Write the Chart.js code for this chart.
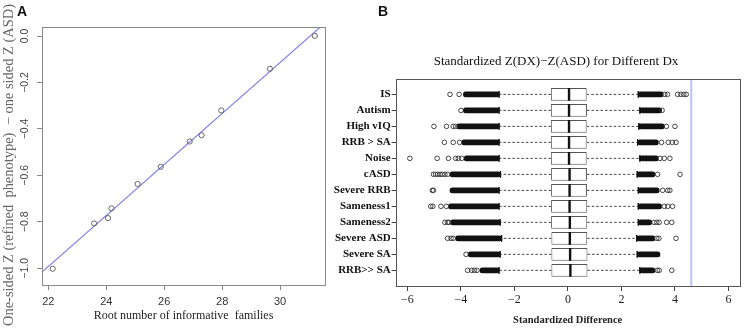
<!DOCTYPE html>
<html>
<head>
<meta charset="utf-8">
<script src="https://cdn.jsdelivr.net/npm/chart.js@4.4.1/dist/chart.umd.min.js"></script>
<style>
  body { margin: 0; background: #fff; width: 746px; height: 328px; position: relative; overflow: hidden; }
  canvas { position: absolute; top: 0; }
  #chartA { left: 0; }
  #chartB { left: 330px; }
  .panel { position: absolute; top: 3px; font: bold 14px 'Liberation Sans', Arial, sans-serif; color: #111; }
</style>
</head>
<body>
<canvas id="chartA" width="330" height="328"></canvas>
<canvas id="chartB" width="416" height="328"></canvas>
<div class="panel" style="left:17px">A</div>
<div class="panel" style="left:378px">B</div>
<script>
// ---- panel A data ----
const rootFamilies = [22.15, 23.58, 24.06, 24.18, 25.08, 25.88, 26.88, 27.29, 27.97, 29.65, 31.20];
const zGain = [-1.002, -0.807, -0.784, -0.742, -0.637, -0.563, -0.454, -0.427, -0.320, -0.141, 0.001];
const fitX = [21.79, 31.40];
const fitY = [-1.015, 0.040];
const xTicksA = [22, 24, 26, 28, 30];
const yTicksA = [-1.0, -0.8, -0.6, -0.4, -0.2, 0.0];

// ---- panel B data (rows top to bottom) ----
const dxNames = ['IS', 'Autism', 'High vIQ', 'RRB > SA', 'Noise', 'cASD', 'Severe RRB',
  'Sameness1', 'Sameness2', 'Severe ASD', 'Severe SA', 'RRB>> SA'];
const boxQ1 = [-0.64, -0.64, -0.64, -0.64, -0.64, -0.63, -0.63, -0.63, -0.63, -0.62, -0.62, -0.62];
const boxMedian = [0.04, 0.04, 0.04, 0.04, 0.04, 0.06, 0.06, 0.06, 0.07, 0.07, 0.08, 0.09];
const boxQ3 = [0.70, 0.71, 0.70, 0.70, 0.70, 0.71, 0.71, 0.72, 0.72, 0.72, 0.73, 0.73];
const whiskerLow = [-2.58, -2.58, -2.58, -2.58, -2.58, -2.52, -2.58, -2.58, -2.54, -2.48, -2.54, -2.58];
const whiskerHigh = [2.63, 2.69, 2.65, 2.60, 2.69, 2.59, 2.63, 2.63, 2.63, 2.57, 2.59, 2.69];
// extent of the solid run of overlapping outliers next to each whisker
const denseLow = [-3.91, -3.91, -4.16, -3.97, -3.88, -4.41, -4.41, -4.47, -4.39, -4.20, -3.73, -3.29];
const denseHigh = [3.56, 3.50, 3.60, 3.38, 3.38, 3.25, 3.41, 3.50, 3.13, 3.25, 3.44, 3.25];
// separate outliers
const outliersLow = [
  [-4.41, -4.07], [-4.00], [-5.01, -4.54, -4.29, -4.20], [-4.62, -4.29, -4.05],
  [-5.91, -4.89, -4.47, -4.20, -4.10, -3.97], [-5.03, -4.95, -4.87, -4.78, -4.70, -4.60, -4.50],
  [-5.07, -5.03], [-5.13, -5.05, -4.75, -4.55], [-4.60, -4.50, -4.45], [-4.50, -4.37, -4.29],
  [-3.81], [-3.75, -3.60, -3.50, -3.40]
];
const outliersHigh = [
  [3.62, 3.72, 4.10, 4.22, 4.33, 4.42], [3.52], [3.68, 4.00], [3.50, 3.75, 3.90, 4.04],
  [3.44, 3.60, 3.81], [3.35, 4.19], [3.54, 3.73, 3.81], [3.60, 3.73, 3.91],
  [3.22, 3.32, 3.41, 3.69, 3.88], [3.32, 3.40, 4.04], [], [3.34, 3.41, 3.88]
];
const thresholdX = [4.61];
const xTicksB = [-6, -4, -2, 0, 2, 4, 6];

const serif = "'Liberation Serif', 'Times New Roman', serif";
const sans = "'Liberation Sans', Arial, sans-serif";
const minus = v => (v < 0 ? '\u2212' : '') + Math.abs(v);

const framePlugin = {
  id: 'frame',
  afterDraw(chart, args, opts) {
    const { ctx, chartArea: a } = chart;
    ctx.save();
    ctx.strokeStyle = opts.color;
    ctx.lineWidth = 1;
    ctx.strokeRect(Math.round(a.left) + 0.5, Math.round(a.top) + 0.5,
      Math.round(a.right - a.left), Math.round(a.bottom - a.top));
    ctx.restore();
  }
};

// R-style y labels and title, written parallel to the axis
const rotatedY = {
  id: 'rotatedY',
  afterDraw(chart, args, opts) {
    const s = chart.scales.y, ctx = chart.ctx;
    ctx.save();
    ctx.textAlign = 'center';
    ctx.textBaseline = 'middle';
    ctx.font = '10.5px ' + sans;
    ctx.fillStyle = '#444';
    s.ticks.forEach(t => {
      ctx.save();
      ctx.translate(s.right - 17, s.getPixelForValue(t.value));
      ctx.rotate(-Math.PI / 2);
      ctx.fillText((t.value < 0 ? '\u2212' : '') + Math.abs(t.value).toFixed(1), 0, 0);
      ctx.restore();
    });
    ctx.font = '14.5px ' + serif;
    ctx.fillStyle = '#666';
    ctx.translate(9.5, (chart.chartArea.top + chart.chartArea.bottom) / 2 + 9);
    ctx.rotate(-Math.PI / 2);
    ctx.fillText(opts.text, 0, 0, 322);
    ctx.restore();
  }
};

new Chart(document.getElementById('chartA'), {
  type: 'scatter',
  data: {
    datasets: [{
      data: rootFamilies.map((x, i) => ({ x, y: zGain[i] })),
      pointStyle: 'circle',
      pointRadius: 2.6,
      pointBorderWidth: 1,
      borderColor: '#666',
      backgroundColor: 'rgba(0,0,0,0)'
    }, {
      type: 'line',
      data: fitX.map((x, i) => ({ x, y: fitY[i] })),
      borderColor: '#8484e4',
      borderWidth: 1.2,
      pointRadius: 0
    }]
  },
  options: {
    responsive: false,
    animation: false,
    layout: { padding: { top: 27, right: 4, left: 0, bottom: 0 } },
    plugins: {
      legend: { display: false }, tooltip: { enabled: false }, frame: { color: '#888' },
      rotatedY: { text: 'One-sided Z (refined  phenotype)  \u2212 one sided Z (ASD)' }
    },
    scales: {
      x: {
        type: 'linear', min: 21.78, max: 31.55,
        afterBuildTicks: s => { s.ticks = xTicksA.map(value => ({ value })); },
        afterFit: s => { s.height = 43; },
        ticks: { font: { family: sans, size: 11 }, color: '#333', padding: 5.4, callback: v => v },
        grid: { drawOnChartArea: false, tickLength: 5, color: '#888' },
        border: { display: false },
        title: {
          display: true, text: 'Root number of informative  families',
          font: { family: serif, size: 12 }, color: '#222', padding: { top: 0, bottom: 4.8 }
        }
      },
      y: {
        type: 'linear', min: -1.072, max: 0.039,
        afterBuildTicks: s => { s.ticks = yTicksA.map(value => ({ value })); },
        afterFit: s => { s.width = 42; },
        ticks: { display: false },
        grid: { drawOnChartArea: false, tickLength: 5, color: '#888' },
        border: { display: false }
      }
    }
  },
  plugins: [framePlugin, rotatedY]
});

// ---- panel B ----
const yMinB = 0.02, yMaxB = 12.98;
const boxHalf = 0.4, stapleHalf = 0.2;
const rowPos = dxNames.map((_, i) => i + 1);

const outlierPts = [];
rowPos.forEach((p, i) => {
  outliersLow[i].forEach(x => outlierPts.push({ x, y: p }));
  outliersHigh[i].forEach(x => outlierPts.push({ x, y: p }));
});
const medianSegs = [], stapleSegs = [], whiskerSegs = [];
rowPos.forEach((p, i) => {
  medianSegs.push({ x: boxMedian[i], y: p - boxHalf }, { x: boxMedian[i], y: p + boxHalf }, { x: null, y: p });
  [whiskerLow[i], whiskerHigh[i]].forEach(w =>
    stapleSegs.push({ x: w, y: p - stapleHalf }, { x: w, y: p + stapleHalf }, { x: null, y: p }));
  whiskerSegs.push({ x: boxQ3[i], y: p }, { x: whiskerHigh[i], y: p }, { x: null, y: p },
    { x: boxQ1[i], y: p }, { x: whiskerLow[i], y: p }, { x: null, y: p });
});

const denseStyle = {
  type: 'bar', indexAxis: 'y', grouped: false,
  backgroundColor: '#111', borderWidth: 0, borderSkipped: false,
  barThickness: 5, borderRadius: 2.5
};

// main title, centred a little left of the plot centre as in the figure
const plotTitle = {
  id: 'plotTitle',
  afterDraw(chart, args, opts) {
    const { ctx, chartArea: a } = chart;
    ctx.save();
    ctx.font = '13px ' + serif;
    ctx.fillStyle = '#111';
    ctx.textAlign = 'center';
    ctx.textBaseline = 'middle';
    ctx.fillText(opts.text, (a.left + a.right) / 2 - 11.7, a.top - 16.7);
    ctx.restore();
  }
};

new Chart(document.getElementById('chartB'), {
  type: 'scatter',
  data: {
    datasets: [{
      data: outlierPts,
      pointStyle: 'circle', pointRadius: 2.3, pointBorderWidth: 0.9,
      borderColor: '#333', backgroundColor: 'rgba(0,0,0,0)'
    }, {
      type: 'line', data: medianSegs, borderColor: '#111', borderWidth: 2.4,
      pointRadius: 0, spanGaps: false, borderCapStyle: 'butt'
    }, {
      type: 'line', data: stapleSegs, borderColor: '#111', borderWidth: 1,
      pointRadius: 0, spanGaps: false
    }, {
      ...denseStyle,
      data: rowPos.map((p, i) => ({ x: [denseLow[i], whiskerLow[i]], y: p }))
    }, {
      ...denseStyle,
      data: rowPos.map((p, i) => ({ x: [whiskerHigh[i], denseHigh[i]], y: p }))
    }, {
      type: 'bar', indexAxis: 'y', grouped: false,
      data: rowPos.map((p, i) => ({ x: [boxQ1[i], boxQ3[i]], y: p })),
      backgroundColor: '#fff', borderColor: '#555', borderWidth: 1, borderSkipped: false,
      barPercentage: 0.8, categoryPercentage: 1
    }, {
      type: 'line', data: whiskerSegs, borderColor: '#444', borderWidth: 1,
      borderDash: [2.5, 2], pointRadius: 0, spanGaps: false
    }, {
      type: 'line',
      data: [{ x: thresholdX[0], y: yMinB }, { x: thresholdX[0], y: yMaxB }],
      borderColor: '#b6c6f6', borderWidth: 2, pointRadius: 0
    }]
  },
  options: {
    responsive: false,
    animation: false,
    layout: { padding: { top: 78.7, left: 0, right: 6.3, bottom: 0 } },
    plugins: {
      legend: { display: false }, tooltip: { enabled: false }, frame: { color: '#555' },
      plotTitle: { text: 'Standardized Z(DX)\u2212Z(ASD) for Different Dx' }
    },
    scales: {
      x: {
        type: 'linear', min: -6.44, max: 6.42, offset: false,
        afterBuildTicks: s => { s.ticks = xTicksB.map(value => ({ value })); },
        afterFit: s => { s.height = 42; },
        ticks: { font: { family: serif, size: 12 }, color: '#222', padding: 1.8, callback: minus },
        grid: { drawOnChartArea: false, offset: false, tickLength: 5, color: '#444' },
        border: { display: false },
        title: {
          display: true, text: 'Standardized Difference',
          font: { family: serif, size: 10.5, weight: 'bold' }, color: '#222', padding: { top: 0, bottom: 1.2 }
        }
      },
      y: {
        type: 'linear', min: yMinB, max: yMaxB, reverse: true, offset: false,
        afterBuildTicks: s => { s.ticks = rowPos.map(value => ({ value })); },
        afterFit: s => { s.width = 65.7; },
        ticks: {
          font: { family: serif, size: 11, weight: 'bold' }, color: '#111', padding: 1, autoSkip: false,
          callback: v => dxNames[v - 1]
        },
        grid: { drawOnChartArea: false, offset: false, tickLength: 4, color: '#444' },
        border: { display: false }
      }
    }
  },
  plugins: [framePlugin, plotTitle]
});
</script>
</body>
</html>
